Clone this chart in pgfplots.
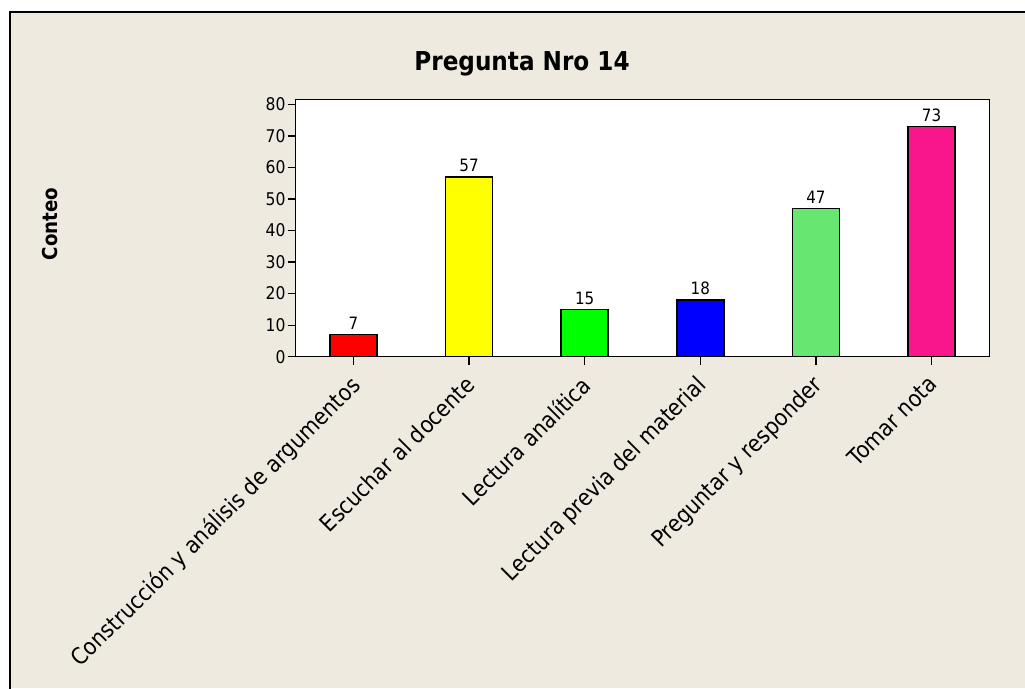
\documentclass[border=0pt]{standalone}
\usepackage{fontspec}
\setmainfont[FakeStretch=0.89]{DejaVu Sans}
\usepackage{pgfplots}
\pgfplotsset{compat=1.18}
\definecolor{bg}{RGB}{238,234,224}
\definecolor{c1}{RGB}{255,0,0}
\definecolor{c2}{RGB}{255,255,0}
\definecolor{c3}{RGB}{0,255,0}
\definecolor{c4}{RGB}{0,0,255}
\definecolor{c5}{RGB}{104,230,114}
\definecolor{c6}{RGB}{249,22,141}
\begin{document}
\begin{tikzpicture}[x=1pt,y=1pt]
\useasboundingbox (0,0) rectangle (1025,688);
\fill[white] (0,0) rectangle (1025,688);
\fill[bg] (10,0) rectangle (1025,676);
\draw[black, line width=1.2pt] (10,-2) -- (10,676) -- (1027,676);
\begin{axis}[
  at={(295.7pt,331.3pt)}, anchor=south west,
  scale only axis, width=693.6pt, height=257.4pt,
  xmin=-0.5, xmax=5.5, ymin=0, ymax=81.6,
  axis background/.style={fill=white},
  axis line style={black, line width=1.4pt},
  ybar, bar width=47pt, bar shift=0pt,
  xtick={0,1,2,3,4,5},
  xticklabels={Construcción y análisis de argumentos, Escuchar al docente, Lectura analítica, Lectura previa del material, Preguntar y responder, Tomar nota},
  ytick={0,10,...,80},
  tick align=outside, xtick pos=bottom, ytick pos=left,
  major tick length=8pt,
  tick style={black, line width=1.3pt},
  /pgf/number format/assume math mode=true,
  yticklabel style={font=\fontsize{17.5}{20}\selectfont, inner sep=2pt},
  xticklabel style={font=\fontsize{23}{26}\selectfont, rotate=45, anchor=north east, inner sep=2pt, xshift=-8pt, yshift=-1pt},
  nodes near coords,
  every node near coord/.append style={font=\fontsize{17}{20}\selectfont, black, yshift=1pt},
]
\addplot[fill=c1, draw=black, line width=1.5pt] coordinates {(0,7)};
\addplot[fill=c2, draw=black, line width=1.5pt] coordinates {(1,57)};
\addplot[fill=c3, draw=black, line width=1.5pt] coordinates {(2,15)};
\addplot[fill=c4, draw=black, line width=1.5pt] coordinates {(3,18)};
\addplot[fill=c5, draw=black, line width=1.5pt] coordinates {(4,47)};
\addplot[fill=c6, draw=black, line width=1.5pt] coordinates {(5,73)};
\end{axis}
\node[anchor=base, font=\fontsize{26}{30}\selectfont\bfseries] at (522,617.3) {Pregunta Nro 14};
\node[rotate=90, font=\fontsize{20.5}{24}\selectfont\bfseries] at (50.5,464) {Conteo};
\end{tikzpicture}
\end{document}
